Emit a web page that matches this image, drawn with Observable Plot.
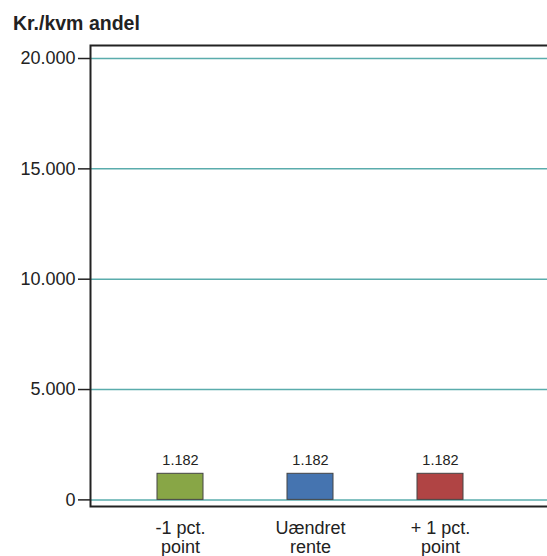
<!DOCTYPE html>
<html>
<head>
<meta charset="utf-8">
<script src="https://cdn.jsdelivr.net/npm/d3@7"></script>
<script src="https://cdn.jsdelivr.net/npm/@observablehq/plot@0.6"></script>
<style>
  html, body { margin: 0; padding: 0; background: #fff; }
  #wrap { position: relative; width: 547px; height: 556px; overflow: hidden; }
  #wrap svg { display: block; max-width: none !important; width: 556px !important; height: 556px !important; }
  #title { position: absolute; left: 13px; top: 12px; font: bold 19.5px Arial, "Liberation Sans", sans-serif; color: #222; }
</style>
</head>
<body>
<div id="wrap"><div id="title">Kr./kvm andel</div></div>
<script>
const categories = ["-1 pct.\npoint", "Uændret\nrente", "+ 1 pct.\npoint"];
const values = [1182, 1182, 1182];
const colors = ["#88a646", "#4574b0", "#b04444"];
const yTicks = [0, 5000, 10000, 15000, 20000];

const data = categories.map((c, i) => ({cat: c, value: values[i], color: colors[i]}));
const fmt = d3.formatLocale({decimal: ",", thousands: ".", grouping: [3], currency: ["", ""]}).format(",");

const chart = Plot.plot({
  width: 556,
  height: 556,
  marginLeft: 90,
  marginTop: 45,
  marginBottom: 50,
  marginRight: 0,
  style: {fontFamily: "Arial, 'Liberation Sans', sans-serif", fontSize: "18px", color: "#222", background: "white", overflow: "visible"},
  x: {domain: categories, range: [115, 505], paddingInner: 0.646, paddingOuter: 0.323, label: null},
  y: {domain: [-300, 20590], label: null},
  marks: [
    Plot.ruleY(yTicks, {stroke: "#5aacac", strokeWidth: 1.5}),
    Plot.barY(data, {x: "cat", y: "value", fill: "color", stroke: "#444", strokeWidth: 1}),
    Plot.text(data, {x: "cat", y: "value", text: d => fmt(d.value), dy: -13, fontSize: 14.5, fill: "#222"}),
    Plot.axisY(yTicks, {tickFormat: fmt, tickSize: 12, tickPadding: 3, fontSize: 18, stroke: "#222", strokeWidth: 1.5}),
    Plot.axisX({tickSize: 0, tickPadding: 13, fontSize: 18, lineHeight: 1.1}),
    Plot.frame({stroke: "#222", strokeWidth: 2})
  ]
});
document.getElementById("wrap").prepend(chart);
</script>
</body>
</html>
